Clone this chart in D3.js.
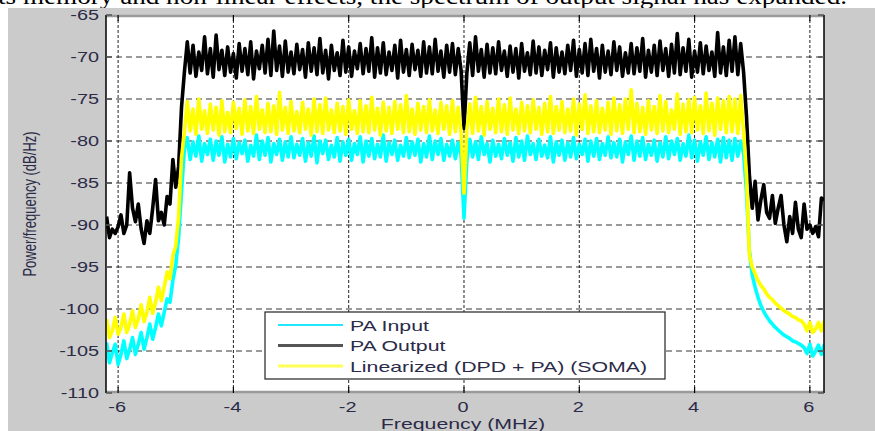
<!DOCTYPE html>
<html>
<head>
<meta charset="utf-8" />
<title>PSD</title>
<script src="https://cdn.jsdelivr.net/npm/d3@7"></script>
<style>
  html, body { margin: 0; padding: 0; background: #fff; }
  svg { display: block; }
</style>
</head>
<body>
<script>
// FFT bin grid of the PSD (MHz)
var freqStart = -6.2;
var freqStep = 0.05;

// PA Input (cyan), dB/Hz: left skirt, in band, right skirt
var inputLeft = [-104.0,-106.4,-105.2,-104.2,-106.6,-105.4,-103.8,-105.9,-104.8,-103.4,-105.4,-104.2,-102.8,-104.8,-103.4,-101.8,-103.6,-102.2,-100.6,-102.0,-100.4,-98.8,-99.2,-96.6,-94.8,-91.5,-86.0];
var inputBand = [
  -81.0,-79.6,-82.2,-80.1,-81.8,-79.4,-82.4,-80.3,-81.6,-79.8,
  -82.3,-80.0,-81.7,-79.5,-82.5,-80.4,-81.9,-79.7,-82.1,-80.2,
  -81.5,-79.9,-82.4,-80.5,-81.8,-79.3,-82.2,-80.0,-81.7,-79.6,
  -82.5,-80.3,-81.6,-79.8,-82.3,-80.1,-81.9,-79.5,-82.0,-80.4,
  -81.7,-79.7,-82.4,-80.2,-81.8,-79.4,-82.6,-80.0,-81.5,-79.9,
  -82.2,-80.5,-81.9,-79.6,-82.4,-80.1,-81.7,-79.8,-82.3,-80.3,
  -81.6,-79.5,-82.5,-80.0,-81.8,-79.7,-82.1,-80.4,-81.9,-79.3,
  -82.4,-80.2,-81.6,-79.9,-82.3,-80.5,-81.8,-79.6,-82.0,-80.1,
  -81.7,-79.8,-82.5,-80.3,-81.9,-79.4,-82.2,-80.0,-81.6,-79.7,
  -82.3,-80.4,-81.8,-79.9,-82.1,-80.2,-81.7,-89.2,-82.4,-79.8,
  -81.9,-80.1,-82.2,-79.5,-81.6,-80.3,-82.5,-79.9,-81.8,-80.4,
  -82.1,-79.7,-81.7,-80.2,-82.4,-79.6,-81.9,-80.0,-82.3,-79.4,
  -81.6,-80.3,-82.2,-79.8,-81.8,-80.5,-82.0,-79.5,-82.5,-80.1,
  -81.7,-79.9,-82.3,-80.2,-81.9,-79.6,-82.1,-80.4,-81.6,-79.8,
  -82.4,-80.0,-81.8,-79.7,-82.2,-80.3,-81.7,-79.5,-82.0,-80.2,
  -81.9,-79.8,-82.5,-80.1,-81.6,-79.4,-82.3,-80.0,-81.8,-79.6,
  -82.2,-80.4,-81.7,-79.9,-82.4,-80.2,-81.9,-79.5,-82.1,-80.0,
  -81.6,-79.7,-82.3,-80.3,-81.8,-79.3,-82.0,-79.9,-82.4,-80.1,
  -81.7,-79.5,-82.2,-80.2,-81.9,-79.8,-82.5,-79.6,-82.0,-79.9,
  -82.3,-79.7,-81.8,-80.0,-81.5];
var inputRight = [-86.0,-93.0,-96.0,-97.4,-98.6,-99.6,-100.3,-100.9,-101.4,-101.8,-102.2,-102.5,-102.8,-103.1,-103.3,-103.5,-103.8,-103.9,-104.1,-104.3,-104.6,-105.3,-104.2,-105.6,-105.0,-104.3,-105.4,-104.2];

// PA Output (black)
var outputLeft = [-89.0,-91.5,-90.5,-91.0,-90.2,-88.8,-91.0,-90.0,-83.8,-88.0,-89.6,-87.5,-90.5,-92.2,-89.5,-91.0,-88.0,-84.6,-89.5,-88.5,-90.0,-86.6,-87.5,-82.2,-85.5,-83.0,-76.0];
var outputBand = [
  -71.8,-68.2,-71.9,-68.6,-72.3,-69.4,-71.6,-67.6,-72.0,-69.0,
  -72.4,-67.4,-71.5,-69.2,-72.2,-68.8,-71.8,-69.6,-72.5,-68.4,
  -71.7,-69.0,-72.1,-68.2,-72.6,-69.3,-71.4,-68.6,-71.9,-67.9,
  -72.2,-66.9,-71.6,-68.7,-72.3,-68.1,-71.8,-69.4,-72.0,-68.5,
  -71.5,-69.1,-72.4,-68.3,-71.7,-68.9,-72.1,-67.8,-71.9,-69.2,
  -72.6,-68.6,-71.6,-69.5,-72.2,-68.0,-71.8,-68.8,-72.3,-69.3,
  -71.4,-68.4,-72.0,-69.0,-71.7,-67.7,-72.4,-68.9,-71.9,-68.3,
  -72.1,-69.4,-71.6,-68.6,-72.5,-68.0,-71.8,-69.1,-72.2,-68.5,
  -71.5,-69.2,-72.3,-68.2,-71.9,-68.8,-72.0,-67.9,-71.7,-69.3,
  -72.4,-68.6,-71.8,-68.4,-72.1,-69.0,-71.6,-78.5,-71.9,-68.3,
  -72.2,-67.6,-71.7,-69.1,-72.4,-68.5,-71.9,-68.9,-72.0,-68.2,
  -71.6,-69.3,-72.3,-68.7,-71.8,-69.0,-72.5,-68.4,-71.7,-69.5,
  -72.1,-68.1,-71.9,-68.8,-72.2,-69.2,-71.5,-68.3,-72.4,-68.9,
  -71.8,-69.4,-72.0,-68.6,-71.6,-68.0,-72.3,-69.1,-71.9,-68.4,
  -72.2,-67.9,-71.7,-69.0,-72.5,-68.6,-71.8,-69.3,-72.1,-68.2,
  -71.6,-68.8,-72.3,-69.5,-71.9,-68.4,-72.0,-68.9,-71.7,-67.8,
  -72.4,-69.2,-71.8,-68.6,-72.2,-68.1,-71.6,-69.0,-72.3,-68.5,
  -71.9,-67.2,-72.1,-68.9,-71.7,-67.9,-72.4,-69.3,-71.8,-68.3,
  -72.0,-68.7,-71.6,-69.4,-72.3,-67.1,-71.9,-68.8,-72.2,-68.0,
  -71.7,-67.6,-72.1,-68.4,-71.8];
var outputRight = [-77.0,-84.0,-88.0,-84.8,-89.4,-87.0,-85.2,-88.5,-89.2,-86.5,-89.8,-88.0,-86.5,-90.0,-92.0,-89.0,-91.0,-87.3,-90.5,-91.5,-87.5,-90.5,-90.0,-91.0,-90.2,-91.4,-86.8,-87.0];

// Linearized (DPD + PA) (SOMA) (yellow)
var linLeft = [-101.2,-103.4,-102.6,-101.0,-103.0,-102.2,-100.6,-102.8,-101.8,-100.2,-102.2,-101.2,-99.5,-101.5,-100.4,-98.6,-100.5,-99.2,-97.4,-99.0,-97.4,-95.6,-96.4,-93.6,-92.5,-89.0,-82.0];
var linBand = [
  -79.0,-75.3,-78.8,-76.2,-79.2,-75.0,-78.6,-76.4,-79.1,-75.6,
  -78.7,-76.0,-79.3,-75.2,-78.9,-76.6,-79.0,-75.4,-78.5,-76.1,
  -79.2,-75.1,-78.8,-75.9,-79.1,-74.7,-78.6,-76.3,-79.0,-75.5,
  -78.9,-75.8,-79.2,-74.2,-78.7,-76.0,-79.1,-75.3,-78.8,-76.5,
  -79.0,-75.4,-78.6,-76.2,-79.3,-75.0,-78.9,-75.7,-79.1,-74.9,
  -78.7,-76.3,-79.0,-75.5,-78.8,-75.9,-79.2,-75.1,-78.6,-76.4,
  -79.1,-75.2,-78.9,-75.8,-79.0,-74.8,-78.7,-76.1,-79.3,-75.4,
  -78.8,-76.0,-79.1,-75.3,-78.6,-75.7,-79.0,-74.6,-78.9,-76.2,
  -79.2,-75.5,-78.7,-75.9,-79.0,-75.1,-78.8,-76.3,-79.1,-75.4,
  -78.6,-75.8,-79.2,-75.2,-78.9,-76.0,-79.0,-86.2,-78.7,-75.6,
  -79.1,-74.8,-78.8,-75.9,-79.3,-75.3,-78.6,-76.1,-79.0,-75.0,
  -78.9,-75.7,-79.2,-74.9,-78.7,-76.2,-79.1,-75.4,-78.8,-75.8,
  -79.0,-75.1,-78.6,-76.0,-79.2,-75.5,-78.9,-74.7,-79.1,-75.9,
  -78.7,-75.3,-79.0,-76.2,-78.8,-75.0,-79.3,-75.6,-78.6,-74.5,
  -79.1,-75.8,-78.9,-75.2,-79.0,-76.1,-78.7,-75.4,-79.2,-74.9,
  -78.8,-75.7,-79.1,-75.0,-78.6,-73.9,-79.0,-75.5,-78.9,-76.0,
  -79.2,-75.2,-78.7,-75.9,-79.1,-74.6,-78.8,-75.3,-79.0,-76.3,
  -78.6,-74.4,-79.2,-75.6,-78.9,-75.1,-79.0,-74.8,-78.7,-75.8,
  -79.1,-74.3,-78.8,-75.5,-79.3,-74.9,-78.6,-75.2,-79.0,-74.7,
  -78.9,-75.0,-79.1,-74.6,-78.8];
var linRight = [-84.0,-93.5,-95.0,-95.8,-96.6,-97.2,-97.6,-98.2,-98.6,-98.9,-99.3,-99.6,-99.9,-100.2,-100.4,-100.6,-100.9,-101.0,-101.3,-101.4,-101.8,-102.6,-101.6,-102.8,-102.4,-101.6,-102.6,-101.4];

var xTicks = [-6, -4, -2, 0, 2, 4, 6];
var yTicks = [-65, -70, -75, -80, -85, -90, -95, -100, -105, -110];
var seriesNames = ['PA Input', 'PA Output', 'Linearized (DPD + PA) (SOMA)'];
var seriesColors = ['#00ffff', '#000000', '#ffff00'];
var legendColors = ['#22e8ff', '#555555', '#ffff55'];
var caption = 'ts memory and non-linear effects, the spectrum of output signal has expanded.';

var width = 875;
var height = 431;
var margin = {left: 106, top: 15, right: 824, bottom: 393};
var stretch = 1.42; // the picture is widened, text with it
var textColor = '#2b2b48';

var svg = d3.select('body').append('svg').attr('width', width).attr('height', height);

// caption cut off at the top
svg.append('text').attr('x', -2).attr('y', 4)
  .attr('font-family', '"Liberation Serif", "DejaVu Serif", serif').attr('font-size', 24)
  .attr('textLength', 849).attr('lengthAdjust', 'spacingAndGlyphs')
  .attr('fill', '#000').text(caption);

svg.append('rect').attr('x', 8).attr('y', 8).attr('width', width - 8).attr('height', height - 8).attr('fill', '#cbcbcb');

var x = d3.scaleLinear().domain([-6.21, 6.245]).range([margin.left, margin.right]);
var y = d3.scaleLinear().domain([-110, -65]).range([margin.bottom, margin.top]);

svg.append('rect').attr('x', margin.left).attr('y', margin.top)
  .attr('width', margin.right - margin.left).attr('height', margin.bottom - margin.top).attr('fill', '#fff');

// grid
svg.append('g').selectAll('line').data(yTicks.slice(1, -1)).enter().append('line')
  .attr('x1', margin.left).attr('x2', margin.right)
  .attr('y1', function(d){ return y(d); }).attr('y2', function(d){ return y(d); })
  .attr('stroke', '#7a7a7a').attr('stroke-width', 1.5).attr('stroke-dasharray', '6,4');
svg.append('g').selectAll('line').data(xTicks).enter().append('line')
  .attr('x1', function(d){ return x(d); }).attr('x2', function(d){ return x(d); })
  .attr('y1', margin.top).attr('y2', margin.bottom)
  .attr('stroke', '#222').attr('stroke-width', 1).attr('stroke-dasharray', '3,2');

// series
function build(left, band, right) {
  return left.concat(band, right).map(function(v, i){ return {f: freqStart + freqStep * i, v: v}; });
}
var series = [
  build(inputLeft, inputBand, inputRight),
  build(outputLeft, outputBand, outputRight),
  build(linLeft, linBand, linRight)
];

svg.append('clipPath').attr('id', 'plotclip').append('rect')
  .attr('x', margin.left).attr('y', margin.top)
  .attr('width', margin.right - margin.left).attr('height', margin.bottom - margin.top);

var line = d3.line().x(function(d){ return x(d.f); }).y(function(d){ return y(d.v); });
svg.append('g').attr('clip-path', 'url(#plotclip)').selectAll('path').data(series).enter().append('path')
  .attr('d', line).attr('fill', 'none')
  .attr('stroke', function(d, i){ return seriesColors[i]; })
  .attr('stroke-width', 3.6).attr('stroke-linejoin', 'round');

// frame and inward ticks
var frame = svg.append('g');
frame.append('line').attr('x1', margin.left).attr('x2', margin.right).attr('y1', margin.top + 1).attr('y2', margin.top + 1).attr('stroke', '#9a9a9a').attr('stroke-width', 2.5);
frame.append('line').attr('x1', margin.left).attr('x2', margin.right).attr('y1', margin.bottom - 1).attr('y2', margin.bottom - 1).attr('stroke', '#9a9a9a').attr('stroke-width', 2.5);
frame.append('line').attr('x1', margin.left).attr('x2', margin.left).attr('y1', margin.top).attr('y2', margin.bottom).attr('stroke', '#000').attr('stroke-width', 1.5);
frame.append('line').attr('x1', margin.right).attr('x2', margin.right).attr('y1', margin.top).attr('y2', margin.bottom).attr('stroke', '#000').attr('stroke-width', 1.5);

frame.selectAll('.xt').data(xTicks).enter().append('path').attr('class', 'xt')
  .attr('d', function(d){ return 'M' + x(d) + ',' + margin.bottom + 'v-6M' + x(d) + ',' + margin.top + 'v6'; })
  .attr('stroke', '#000').attr('stroke-width', 1.2);
frame.selectAll('.yt').data(yTicks).enter().append('path').attr('class', 'yt')
  .attr('d', function(d){ return 'M' + margin.left + ',' + y(d) + 'h6M' + margin.right + ',' + y(d) + 'h-6'; })
  .attr('stroke', '#555').attr('stroke-width', 1.5);

// tick labels (widened like the source picture)
function stretchedText(g, tx, ty, str, size, anchor) {
  g.append('g').attr('transform', 'translate(' + tx + ',' + ty + ') scale(' + stretch + ',1)')
    .append('text').attr('text-anchor', anchor)
    .attr('font-family', '"Liberation Sans", Arial, sans-serif').attr('font-size', size)
    .attr('fill', textColor).text(str);
}
var labels = svg.append('g');
yTicks.forEach(function(d){ stretchedText(labels, 99, y(d) + 5, String(d), 14, 'end'); });
xTicks.forEach(function(d){ stretchedText(labels, x(d) - 1, 412, String(d), 14, 'middle'); });
stretchedText(labels, 463, 429, 'Frequency (MHz)', 15, 'middle');

labels.append('g').attr('transform', 'translate(36,' + ((margin.top + margin.bottom) / 2) + ') scale(1.35,1) rotate(-90)')
  .append('text').attr('text-anchor', 'middle')
  .attr('font-family', '"Liberation Sans", Arial, sans-serif').attr('font-size', 13)
  .attr('fill', textColor).text('Power/frequency (dB/Hz)');

// legend
var legend = svg.append('g');
legend.append('rect').attr('x', 265).attr('y', 312).attr('width', 400).attr('height', 67)
  .attr('fill', '#fff').attr('stroke', '#222').attr('stroke-width', 1.2);
seriesNames.forEach(function(name, i){
  var ly = 325 + i * 20.5;
  legend.append('line').attr('x1', 278).attr('x2', 343).attr('y1', ly).attr('y2', ly)
    .attr('stroke', legendColors[i]).attr('stroke-width', i === 0 ? 2 : 3);
  stretchedText(legend, 350, ly + 5.5, name, 15, 'start');
});
</script>
</body>
</html>
